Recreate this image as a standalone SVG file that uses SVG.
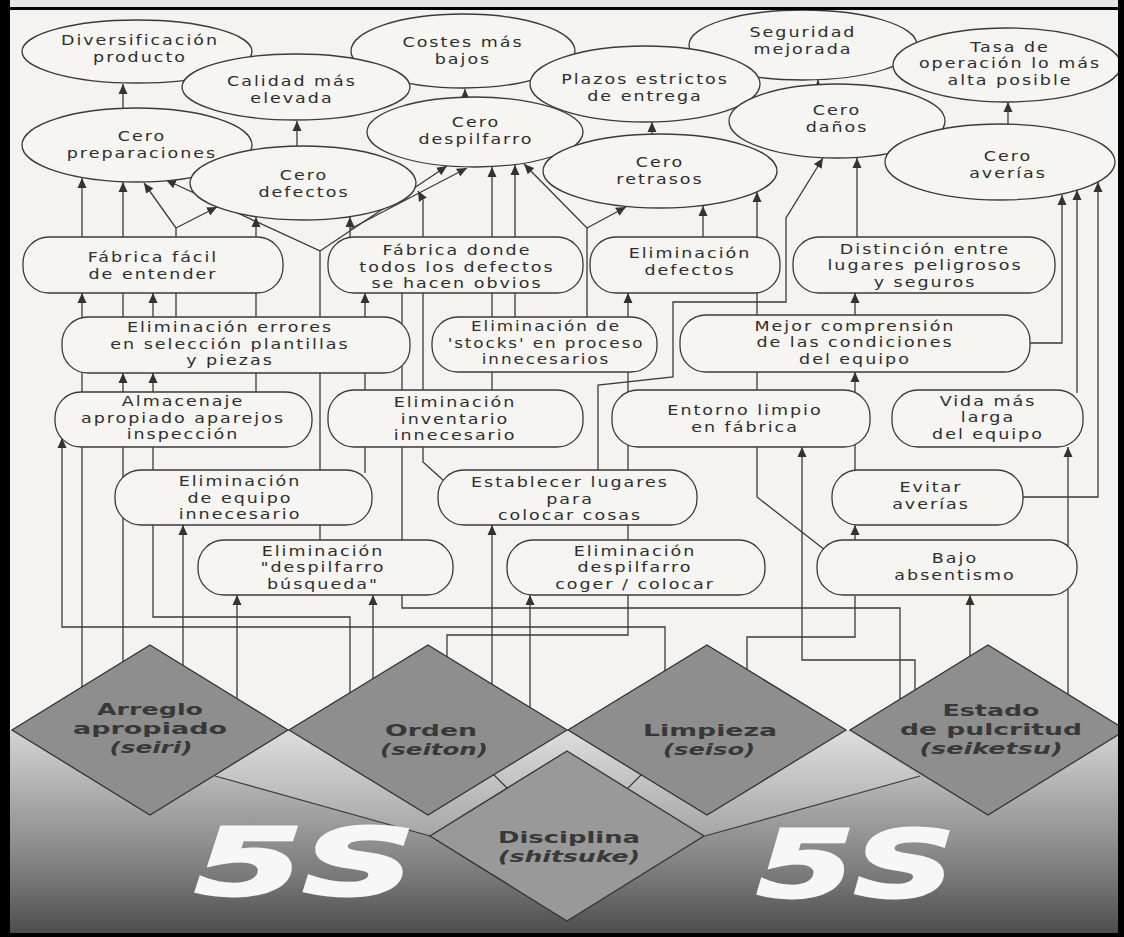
<svg xmlns="http://www.w3.org/2000/svg" width="1124" height="937" viewBox="0 0 1124 937">
<defs>
<style>
.n ellipse,.n rect{fill:#f6f5f2;stroke:#3a3a3a;stroke-width:1.3}
.t{font-family:"DejaVu Sans",sans-serif;font-size:14px;letter-spacing:1.6px;fill:#2e2e2e;text-anchor:middle}
.c path{fill:none;stroke:#3a3a3a;stroke-width:1.3}
.c .a{marker-end:url(#ah)}
.d polygon{fill:#8e8e8e;stroke:#333;stroke-width:1.3}
.dt{font-family:"DejaVu Sans",sans-serif;font-weight:bold;font-size:16px;fill:#383838;text-anchor:middle}
.dt.i{font-style:italic}
.five{font-family:"DejaVu Sans",sans-serif;font-weight:bold;font-style:italic;font-size:92px;fill:#f7f7f7;stroke:#f7f7f7;stroke-width:3}
.fl{fill:none;stroke:#3a3a3a;stroke-width:1.2}
</style>
<marker id="ah" markerUnits="userSpaceOnUse" markerWidth="10" markerHeight="10" refX="10" refY="5" orient="auto"><path d="M0,0.5 L10,5 L0,9.5 z" fill="#333"/></marker>
<linearGradient id="floor" x1="0" y1="730" x2="0" y2="937" gradientUnits="userSpaceOnUse">
<stop offset="0" stop-color="#d4d4d4"/><stop offset="0.35" stop-color="#a8a8a8"/><stop offset="0.7" stop-color="#7a7a7a"/><stop offset="1" stop-color="#4a4a4a"/>
</linearGradient>
<linearGradient id="deck" x1="0" y1="730" x2="0" y2="836" gradientUnits="userSpaceOnUse">
<stop offset="0" stop-color="#dedede"/><stop offset="1" stop-color="#a6a6a6"/>
</linearGradient>
</defs>

<!-- paper -->
<rect x="0" y="0" width="1124" height="937" fill="#f4f3f0"/>
<!-- floor under the five pillars -->
<rect x="0" y="730" width="1124" height="207" fill="url(#floor)"/>
<polygon points="289,730 215,776 430,836 705,836 920,776 848,730" fill="url(#deck)"/>
<path class="fl" d="M215,776 L430,836 M705,836 L920,776 M493,774 L507,788 M642,774 L628,788"/>

<!-- connectors -->
<g id="connectors" class="c">
<path class="a" d="M123,110V84"/>
<path class="a" d="M297,150V121"/>
<path class="a" d="M465,99V89"/>
<path class="a" d="M652,137V122"/>
<path class="a" d="M818,87V80"/>
<path class="a" d="M1008,127V102"/>

<path class="a" d="M82,240V178"/>
<path class="a" d="M123,320V182"/>
<path class="a" d="M176,320V228L144,183"/>
<path class="a" d="M176,228L217,207"/>
<path class="a" d="M320,545V251L166,180"/>
<path class="a" d="M320,251L447,166"/>

<path class="a" d="M256,395V217"/>
<path class="a" d="M350,240V217"/>
<path class="a" d="M350,229L467,168"/>
<path class="a" d="M443,480L423,462V200L418,191"/>

<path class="a" d="M492,393V167"/>
<path class="a" d="M515,320V165"/>
<path class="a" d="M587,320V228L524,164"/>
<path class="a" d="M587,228L626,207"/>
<path class="a" d="M703,240V206"/>
<path class="a" d="M825,550L757,497V192"/>
<path class="a" d="M598,473V385L673,377V302H786V218L823,158"/>
<path class="a" d="M857,240V158"/>
<path class="a" d="M1027,343H1062V195"/>
<path class="a" d="M1077,393V190"/>
<path class="a" d="M1020,497H1098V182"/>

<path class="a" d="M855,318V293"/>
<path class="a" d="M855,473V372"/>
<path class="a" d="M855,543V525"/>
<path d="M747,675V637H855V596"/>
<path class="a" d="M970,662V595"/>
<path class="a" d="M1068,700V447"/>
<path class="a" d="M915,695V660H802V447"/>
<path d="M900,705V608H402V292"/>
<path class="a" d="M447,662V635H628V293"/>
<path class="a" d="M492,690V525"/>
<path class="a" d="M530,712V595"/>

<path class="a" d="M82,692V293"/>
<path class="a" d="M123,668V373"/>
<path class="a" d="M350,698V617H153V373"/>
<path class="a" d="M153,320V293"/>
<path class="a" d="M183,670V525"/>
<path class="a" d="M237,704V595"/>
<path class="a" d="M373,684V595"/>
<path class="a" d="M665,676V627H62V438"/>
<path class="a" d="M365,473V293"/>
</g>

<!-- goals (ellipses); labels are widened 1.25x about their centre line -->
<g id="n-diversificacion" class="n"><ellipse cx="137" cy="51.5" rx="115" ry="31.5"/><text class="t" transform="matrix(1.25 0 0 1 -35 0)"><tspan x="140" y="45.5">Diversificación</tspan><tspan x="140" y="62.5">producto</tspan></text></g>
<g id="n-costes" class="n"><ellipse cx="463" cy="51" rx="112" ry="37"/><text class="t" transform="matrix(1.25 0 0 1 -115.75 0)"><tspan x="463" y="47">Costes más</tspan><tspan x="463" y="64">bajos</tspan></text></g>
<g id="n-seguridad" class="n"><ellipse cx="803" cy="45" rx="114" ry="35"/><text class="t" transform="matrix(1.25 0 0 1 -200.75 0)"><tspan x="803" y="37.5">Seguridad</tspan><tspan x="803" y="54.5">mejorada</tspan></text></g>
<g id="n-tasa" class="n"><ellipse cx="1007" cy="65" rx="114" ry="37"/><text class="t" transform="matrix(1.25 0 0 1 -252.5 0)"><tspan x="1010" y="52">Tasa de</tspan><tspan x="1010" y="68.5">operación lo más</tspan><tspan x="1010" y="85">alta posible</tspan></text></g>
<g id="n-calidad" class="n"><ellipse cx="296" cy="87" rx="114" ry="33"/><text class="t" transform="matrix(1.25 0 0 1 -73 0)"><tspan x="292" y="86">Calidad más</tspan><tspan x="292" y="103">elevada</tspan></text></g>
<g id="n-plazos" class="n"><ellipse cx="645" cy="84" rx="115" ry="38"/><text class="t" transform="matrix(1.25 0 0 1 -161.25 0)"><tspan x="645" y="84">Plazos estrictos</tspan><tspan x="645" y="101">de entrega</tspan></text></g>
<g id="n-cero-preparaciones" class="n"><ellipse cx="137" cy="145" rx="115" ry="37"/><text class="t" transform="matrix(1.25 0 0 1 -35.5 0)"><tspan x="142" y="141.5">Cero</tspan><tspan x="142" y="158.5">preparaciones</tspan></text></g>
<g id="n-cero-despilfarro" class="n"><ellipse cx="475" cy="132" rx="108" ry="35"/><text class="t" transform="matrix(1.25 0 0 1 -119 0)"><tspan x="476" y="127">Cero</tspan><tspan x="476" y="144">despilfarro</tspan></text></g>
<g id="n-cero-danos" class="n"><ellipse cx="837" cy="121" rx="108" ry="37"/><text class="t" transform="matrix(1.25 0 0 1 -209.25 0)"><tspan x="837" y="115">Cero</tspan><tspan x="837" y="132">daños</tspan></text></g>
<g id="n-cero-defectos" class="n"><ellipse cx="303" cy="183" rx="113" ry="37"/><text class="t" transform="matrix(1.25 0 0 1 -76 0)"><tspan x="304" y="180">Cero</tspan><tspan x="304" y="197">defectos</tspan></text></g>
<g id="n-cero-retrasos" class="n"><ellipse cx="660" cy="171" rx="117" ry="37"/><text class="t" transform="matrix(1.25 0 0 1 -165 0)"><tspan x="660" y="167.5">Cero</tspan><tspan x="660" y="184.5">retrasos</tspan></text></g>
<g id="n-cero-averias" class="n"><ellipse cx="1000" cy="162" rx="115" ry="38"/><text class="t" transform="matrix(1.25 0 0 1 -252 0)"><tspan x="1008" y="161.5">Cero</tspan><tspan x="1008" y="178.5">averías</tspan></text></g>

<!-- intermediate effects (rounded boxes) -->
<g id="n-fabrica-facil" class="n"><rect x="23" y="237" width="260" height="56" rx="26"/><text class="t" transform="matrix(1.25 0 0 1 -38.25 0)"><tspan x="153" y="262">Fábrica fácil</tspan><tspan x="153" y="279">de entender</tspan></text></g>
<g id="n-fabrica-donde" class="n"><rect x="328" y="237" width="255" height="56" rx="26"/><text class="t" transform="matrix(1.25 0 0 1 -114.25 0)"><tspan x="457" y="255.5">Fábrica donde</tspan><tspan x="457" y="272">todos los defectos</tspan><tspan x="457" y="288.5">se hacen obvios</tspan></text></g>
<g id="n-elim-defectos" class="n"><rect x="590" y="237" width="190" height="56" rx="26"/><text class="t" transform="matrix(1.25 0 0 1 -172.5 0)"><tspan x="690" y="258.5">Eliminación</tspan><tspan x="690" y="275.5">defectos</tspan></text></g>
<g id="n-distincion" class="n"><rect x="793" y="237" width="262" height="56" rx="26"/><text class="t" transform="matrix(1.25 0 0 1 -231.25 0)"><tspan x="925" y="254">Distinción entre</tspan><tspan x="925" y="270.5">lugares peligrosos</tspan><tspan x="925" y="287">y seguros</tspan></text></g>
<g id="n-elim-errores" class="n"><rect x="62" y="317" width="348" height="56" rx="26"/><text class="t" transform="matrix(1.25 0 0 1 -57.5 0)"><tspan x="230" y="332.5">Eliminación errores</tspan><tspan x="230" y="349">en selección plantillas</tspan><tspan x="230" y="365.5">y piezas</tspan></text></g>
<g id="n-stocks" class="n"><rect x="432" y="317" width="225" height="55" rx="26"/><text class="t" transform="matrix(1.2 0 0 1 -109.2 0)"><tspan x="546" y="331.5">Eliminación de</tspan><tspan x="546" y="348">'stocks' en proceso</tspan><tspan x="546" y="364.5">innecesarios</tspan></text></g>
<g id="n-mejor" class="n"><rect x="680" y="315" width="350" height="57" rx="26"/><text class="t" transform="matrix(1.25 0 0 1 -213.75 0)"><tspan x="855" y="331">Mejor comprensión</tspan><tspan x="855" y="347.5">de las condiciones</tspan><tspan x="855" y="364">del equipo</tspan></text></g>
<g id="n-almacenaje" class="n"><rect x="55" y="392" width="257" height="55" rx="26"/><text class="t" transform="matrix(1.25 0 0 1 -45.75 0)"><tspan x="183" y="406.5">Almacenaje</tspan><tspan x="183" y="423">apropiado aparejos</tspan><tspan x="183" y="439.5">inspección</tspan></text></g>
<g id="n-inventario" class="n"><rect x="328" y="390" width="255" height="57" rx="26"/><text class="t" transform="matrix(1.25 0 0 1 -113.75 0)"><tspan x="455" y="407.5">Eliminación</tspan><tspan x="455" y="424">inventario</tspan><tspan x="455" y="440.5">innecesario</tspan></text></g>
<g id="n-entorno" class="n"><rect x="612" y="390" width="258" height="57" rx="26"/><text class="t" transform="matrix(1.25 0 0 1 -186.25 0)"><tspan x="745" y="415.5">Entorno limpio</tspan><tspan x="745" y="432.5">en fábrica</tspan></text></g>
<g id="n-vida" class="n"><rect x="892" y="390" width="191" height="57" rx="26"/><text class="t" transform="matrix(1.25 0 0 1 -247 0)"><tspan x="988" y="406">Vida más</tspan><tspan x="988" y="422.5">larga</tspan><tspan x="988" y="439">del equipo</tspan></text></g>
<g id="n-equipo" class="n"><rect x="115" y="470" width="257" height="55" rx="26"/><text class="t" transform="matrix(1.25 0 0 1 -60 0)"><tspan x="240" y="486.5">Eliminación</tspan><tspan x="240" y="503">de equipo</tspan><tspan x="240" y="519.5">innecesario</tspan></text></g>
<g id="n-establecer" class="n"><rect x="438" y="470" width="259" height="55" rx="26"/><text class="t" transform="matrix(1.25 0 0 1 -142.5 0)"><tspan x="570" y="487.5">Establecer lugares</tspan><tspan x="570" y="504">para</tspan><tspan x="570" y="520.5">colocar cosas</tspan></text></g>
<g id="n-evitar" class="n"><rect x="832" y="470" width="191" height="55" rx="26"/><text class="t" transform="matrix(1.25 0 0 1 -232.75 0)"><tspan x="931" y="492.5">Evitar</tspan><tspan x="931" y="509.5">averías</tspan></text></g>
<g id="n-busqueda" class="n"><rect x="198" y="540" width="255" height="55" rx="26"/><text class="t" transform="matrix(1.25 0 0 1 -80.75 0)"><tspan x="323" y="556">Eliminación</tspan><tspan x="323" y="572.5">"despilfarro</tspan><tspan x="323" y="589">búsqueda"</tspan></text></g>
<g id="n-coger" class="n"><rect x="507" y="540" width="258" height="55" rx="26"/><text class="t" transform="matrix(1.25 0 0 1 -158.75 0)"><tspan x="635" y="556">Eliminación</tspan><tspan x="635" y="572.5">despilfarro</tspan><tspan x="635" y="589">coger / colocar</tspan></text></g>
<g id="n-bajo" class="n"><rect x="817" y="540" width="260" height="55" rx="26"/><text class="t" transform="matrix(1.25 0 0 1 -238.75 0)"><tspan x="955" y="563.5">Bajo</tspan><tspan x="955" y="580.5">absentismo</tspan></text></g>

<!-- the five pillars -->
<g id="n-seiri" class="d"><polygon points="150,645 288,730 150,815 12,730"/>
<text class="dt" x="150" y="715" textLength="106" lengthAdjust="spacingAndGlyphs">Arreglo</text>
<text class="dt" x="150" y="734" textLength="154" lengthAdjust="spacingAndGlyphs">apropiado</text>
<text class="dt i" x="151" y="753" textLength="83" lengthAdjust="spacingAndGlyphs">(seiri)</text></g>
<g id="n-seiton" class="d"><polygon points="428,645 567,730 428,815 289,730"/>
<text class="dt" x="431" y="736" textLength="92" lengthAdjust="spacingAndGlyphs">Orden</text>
<text class="dt i" x="434" y="755" textLength="108" lengthAdjust="spacingAndGlyphs">(seiton)</text></g>
<g id="n-seiso" class="d"><polygon points="707,645 846,730 707,815 568,730"/>
<text class="dt" x="710" y="736" textLength="134" lengthAdjust="spacingAndGlyphs">Limpieza</text>
<text class="dt i" x="709" y="755" textLength="92" lengthAdjust="spacingAndGlyphs">(seiso)</text></g>
<g id="n-seiketsu" class="d"><polygon points="988,645 1126,730 988,815 850,730"/>
<text class="dt" x="991" y="716" textLength="97" lengthAdjust="spacingAndGlyphs">Estado</text>
<text class="dt" x="991" y="735" textLength="182" lengthAdjust="spacingAndGlyphs">de pulcritud</text>
<text class="dt i" x="991" y="754" textLength="143" lengthAdjust="spacingAndGlyphs">(seiketsu)</text></g>
<g id="n-shitsuke" class="d"><polygon points="567,751 704,836 567,921 430,836" style="fill:#999"/>
<text class="dt" x="569" y="843" textLength="142" lengthAdjust="spacingAndGlyphs">Disciplina</text>
<text class="dt i" x="569" y="862" textLength="142" lengthAdjust="spacingAndGlyphs">(shitsuke)</text></g>

<!-- 5S lettering -->
<text class="five" x="195" y="895" textLength="220" lengthAdjust="spacingAndGlyphs">5S</text>
<text class="five" x="757" y="897" textLength="198" lengthAdjust="spacingAndGlyphs">5S</text>

<!-- frame -->
<rect x="0" y="0" width="1124" height="7" fill="#e4e4e4"/>
<rect x="0" y="7" width="1124" height="3" fill="#000"/>
<rect x="0" y="0" width="10" height="937" fill="#000"/>
<rect x="1118" y="0" width="6" height="937" fill="#000"/>
<rect x="0" y="933" width="1124" height="4" fill="#000"/>
</svg>
